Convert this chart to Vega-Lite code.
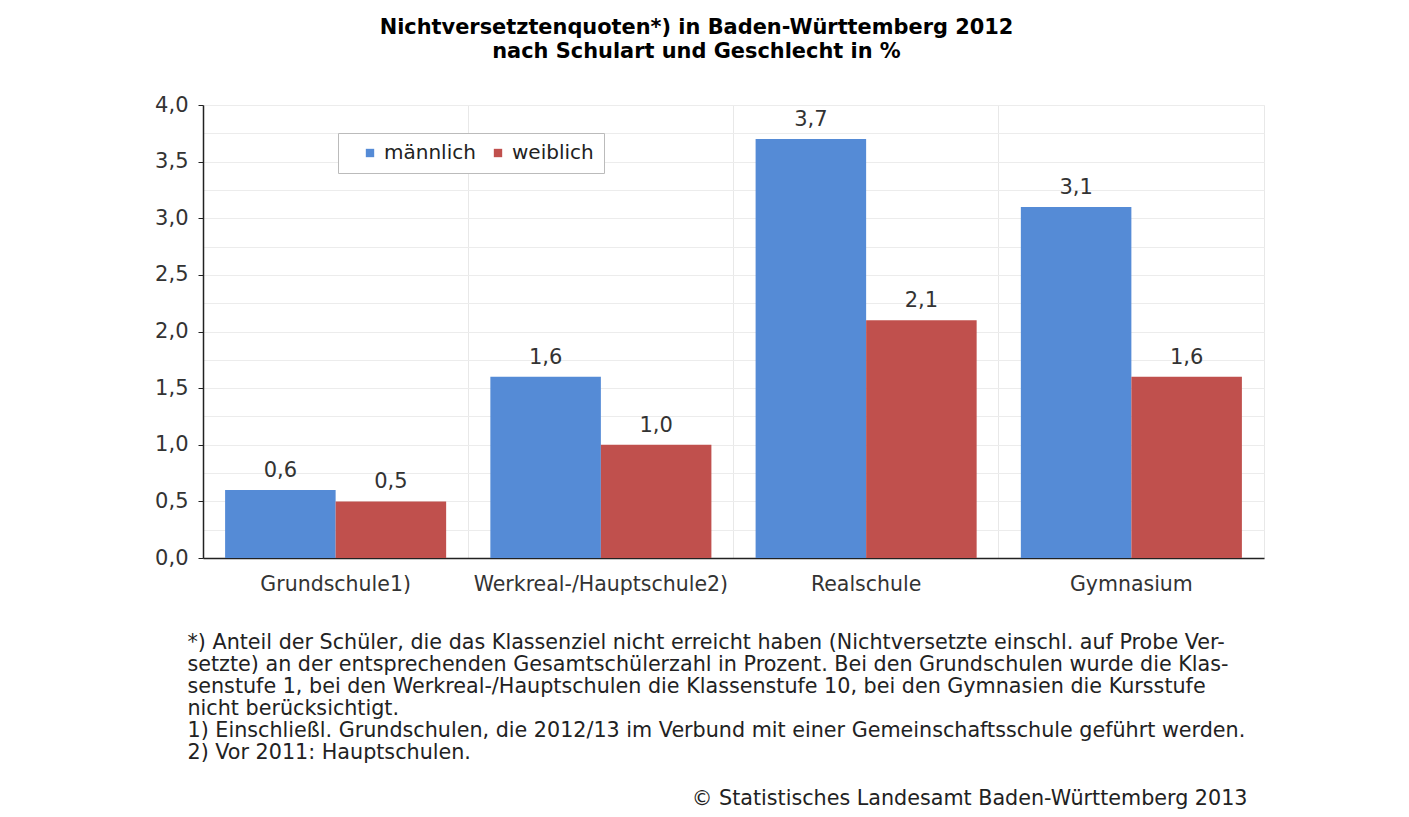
{
  "$schema": "https://vega.github.io/schema/vega-lite/v6.json",
  "autosize": {"type": "none"},
  "padding": {"left": 203, "top": 105, "right": 145, "bottom": 259},
  "width": 1061,
  "height": 453,
  "background": "white",
  "title": {
    "text": ["Nichtversetztenquoten*) in Baden-Württemberg 2012", "nach Schulart und Geschlecht in %"],
    "font": "DejaVu Sans",
    "fontSize": 20.9,
    "fontWeight": "bold",
    "color": "#000000",
    "anchor": "middle",
    "dx": -37,
    "offset": 32,
    "lineHeight": 24
  },
  "data": {
    "values": [
      {"Schulart": "Grundschule1)", "Geschlecht": "männlich", "Quote": 0.6},
      {"Schulart": "Grundschule1)", "Geschlecht": "weiblich", "Quote": 0.5},
      {"Schulart": "Werkreal-/Hauptschule2)", "Geschlecht": "männlich", "Quote": 1.6},
      {"Schulart": "Werkreal-/Hauptschule2)", "Geschlecht": "weiblich", "Quote": 1.0},
      {"Schulart": "Realschule", "Geschlecht": "männlich", "Quote": 3.7},
      {"Schulart": "Realschule", "Geschlecht": "weiblich", "Quote": 2.1},
      {"Schulart": "Gymnasium", "Geschlecht": "männlich", "Quote": 3.1},
      {"Schulart": "Gymnasium", "Geschlecht": "weiblich", "Quote": 1.6}
    ]
  },
  "encoding": {
    "x": {
      "field": "Schulart",
      "type": "nominal",
      "sort": null,
      "scale": {"paddingInner": 0, "paddingOuter": 0},
      "axis": {
        "bandPosition": 0,
        "grid": true,
        "gridColor": "#e8e8e8",
        "ticks": false,
        "labelAngle": 0,
        "labelLimit": 0,
        "labelFont": "DejaVu Sans",
        "labelFontSize": 20.5,
        "labelColor": "#333333",
        "labelPadding": 16,
        "domainColor": "#222222",
        "domainWidth": 1.5,
        "title": [
          "*) Anteil der Schüler, die das Klassenziel nicht erreicht haben (Nichtversetzte einschl. auf Probe Ver-",
          "setzte) an der entsprechenden Gesamtschülerzahl in Prozent. Bei den Grundschulen wurde die Klas-",
          "senstufe 1, bei den Werkreal-/Hauptschulen die Klassenstufe 10, bei den Gymnasien die Kursstufe",
          "nicht berücksichtigt.",
          "1) Einschließl. Grundschulen, die 2012/13 im Verbund mit einer Gemeinschaftsschule geführt werden.",
          "2) Vor 2011: Hauptschulen."
        ],
        "titleFont": "DejaVu Sans",
        "titleFontSize": 20.7,
        "titleFontWeight": "normal",
        "titleColor": "#222222",
        "titleAnchor": "start",
        "titleAlign": "left",
        "titleBaseline": "alphabetic",
        "titleLineHeight": 22,
        "titleX": -16,
        "titleY": 90
      }
    },
    "xOffset": {
      "field": "Geschlecht",
      "type": "nominal",
      "scale": {"paddingInner": 0, "paddingOuter": 0.2}
    },
    "y": {
      "field": "Quote",
      "type": "quantitative",
      "scale": {"domain": [0, 4], "nice": false},
      "axis": {
        "values": [0, 0.25, 0.5, 0.75, 1, 1.25, 1.5, 1.75, 2, 2.25, 2.5, 2.75, 3, 3.25, 3.5, 3.75, 4],
        "format": ".1f",
        "labelExpr": "datum.value % 0.5 === 0 ? datum.label : ''",
        "tickOpacity": {"condition": {"test": "datum.value % 0.5 === 0", "value": 1}, "value": 0},
        "tickSize": 5,
        "tickColor": "#222222",
        "grid": true,
        "gridColor": "#ececec",
        "labelFont": "DejaVu Sans",
        "labelFontSize": 21,
        "labelColor": "#333333",
        "labelPadding": 10,
        "domainColor": "#222222",
        "domainWidth": 1.5,
        "title": "© Statistisches Landesamt Baden-Württemberg 2013",
        "titleAngle": 0,
        "titleFont": "DejaVu Sans",
        "titleFontSize": 20.7,
        "titleFontWeight": "normal",
        "titleColor": "#222222",
        "titleAlign": "right",
        "titleBaseline": "alphabetic",
        "titleX": 1044,
        "titleY": 699
      }
    }
  },
  "layer": [
    {
      "mark": {"type": "bar"},
      "encoding": {
        "color": {
          "field": "Geschlecht",
          "type": "nominal",
          "scale": {"domain": ["männlich", "weiblich"], "range": ["#558bd6", "#c0504d"]},
          "legend": {
            "title": null,
            "orient": "none",
            "legendX": 135,
            "legendY": 28,
            "direction": "horizontal",
            "symbolType": "square",
            "symbolSize": 70,
            "symbolStrokeWidth": 0,
            "symbolOffset": 12,
            "labelFont": "DejaVu Sans",
            "labelFontSize": 20,
            "labelColor": "#222222",
            "labelOffset": 4,
            "columnPadding": 0,
            "padding": 10,
            "strokeColor": "#bbbbbb",
            "fillColor": "white",
            "offset": 0
          }
        }
      }
    },
    {
      "mark": {"type": "text", "baseline": "bottom", "dy": -9, "font": "DejaVu Sans", "fontSize": 21, "color": "#333333"},
      "encoding": {
        "text": {"field": "Quote", "type": "quantitative", "format": ".1f"}
      }
    }
  ],
  "config": {
    "locale": {"number": {"decimal": ",", "thousands": ".", "grouping": [3], "currency": ["", " €"]}},
    "view": {"stroke": "#e8e8e8"}
  }
}
